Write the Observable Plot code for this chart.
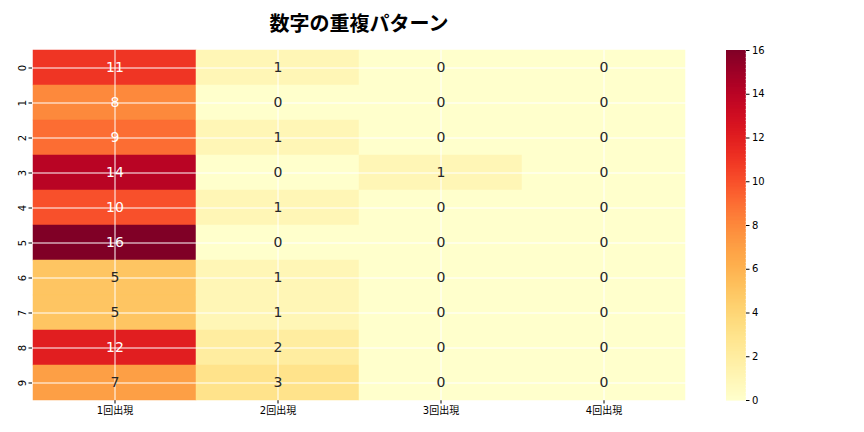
<!DOCTYPE html>
<html>
<head>
<meta charset="utf-8">
<script src="https://cdn.jsdelivr.net/npm/d3@7"></script>
<script src="https://cdn.jsdelivr.net/npm/@observablehq/plot@0.6"></script>
<style>
  html, body { margin: 0; padding: 0; background: #fff; }
  #wrap { position: relative; width: 864px; height: 432px; overflow: hidden; font-family: "DejaVu Sans", "Noto Sans CJK JP", sans-serif; }
  #title { position: absolute; left: 0; width: 718px; top: 8px; text-align: center; font-family: "Noto Sans CJK JP", sans-serif; font-weight: bold; font-size: 20px; color: #000; }
  #heat { position: absolute; left: 0; top: 0; }
  #cbar { position: absolute; left: 700px; top: 0; }
</style>
</head>
<body>
<div id="wrap">
  <div id="title">数字の重複パターン</div>
  <div id="heat"></div>
  <div id="cbar"></div>
</div>
<script>
const rows = ["0","1","2","3","4","5","6","7","8","9"];
const cols = ["1回出現","2回出現","3回出現","4回出現"];
const count1 = [11, 8, 9, 14, 10, 16, 5, 5, 12, 7];
const count2 = [1, 0, 1, 0, 1, 0, 1, 1, 2, 3];
const count3 = [0, 0, 0, 1, 0, 0, 0, 0, 0, 0];
const count4 = [0, 0, 0, 0, 0, 0, 0, 0, 0, 0];
const colorTicks = [0, 2, 4, 6, 8, 10, 12, 14, 16];

const series = [count1, count2, count3, count4];
const table = [];
series.forEach((vals, j) => vals.forEach((v, i) => table.push({row: rows[i], col: cols[j], value: v})));

const colorOpts = {type: "linear", scheme: "YlOrRd", domain: [0, 16]};
const font = '"DejaVu Sans", "Noto Sans CJK JP", sans-serif';

const heat = Plot.plot({
  width: 700, height: 432,
  marginLeft: 32, marginRight: 14, marginTop: 50, marginBottom: 32,
  style: {fontFamily: font, fontSize: "10px", background: "transparent", color: "#000"},
  x: {domain: cols, padding: 0, label: null, tickSize: 3.5, tickPadding: 3},
  y: {domain: rows, padding: 0, label: null, tickSize: 3.5, tickPadding: 3, tickRotate: -90},
  color: colorOpts,
  marks: [
    Plot.cell(table, {x: "col", y: "row", fill: "value", inset: 0, stroke: "value", strokeWidth: 0.5}),
    Plot.ruleY(rows, {y: d => d, stroke: "#fff", strokeWidth: 1}),
    Plot.ruleX(cols, {x: d => d, stroke: "#fff", strokeWidth: 1}),
    Plot.text(table, {x: "col", y: "row", text: d => String(d.value), fontSize: 14,
      fill: d => d.value >= 8 ? "#ffffff" : "#262626"})
  ]
});
document.getElementById("heat").appendChild(heat);

const step = 0.0625;
const ramp = d3.range(0, 16, step);
const cbar = Plot.plot({
  width: 100, height: 432,
  marginLeft: 26, marginRight: 55, marginTop: 50, marginBottom: 32,
  style: {fontFamily: font, fontSize: "10px", background: "transparent", color: "#000"},
  x: {domain: [0, 1], axis: null},
  y: {domain: [0, 16], label: null, axis: "right", ticks: colorTicks, tickSize: 3.5, tickPadding: 3},
  color: colorOpts,
  marks: [
    Plot.rect(ramp, {x1: 0, x2: 1, y1: d => d, y2: d => d + step, fill: d => d + step / 2,
      stroke: d => d + step / 2, strokeWidth: 0.6, shapeRendering: "crispEdges"})
  ]
});
document.getElementById("cbar").appendChild(cbar);
</script>
</body>
</html>
